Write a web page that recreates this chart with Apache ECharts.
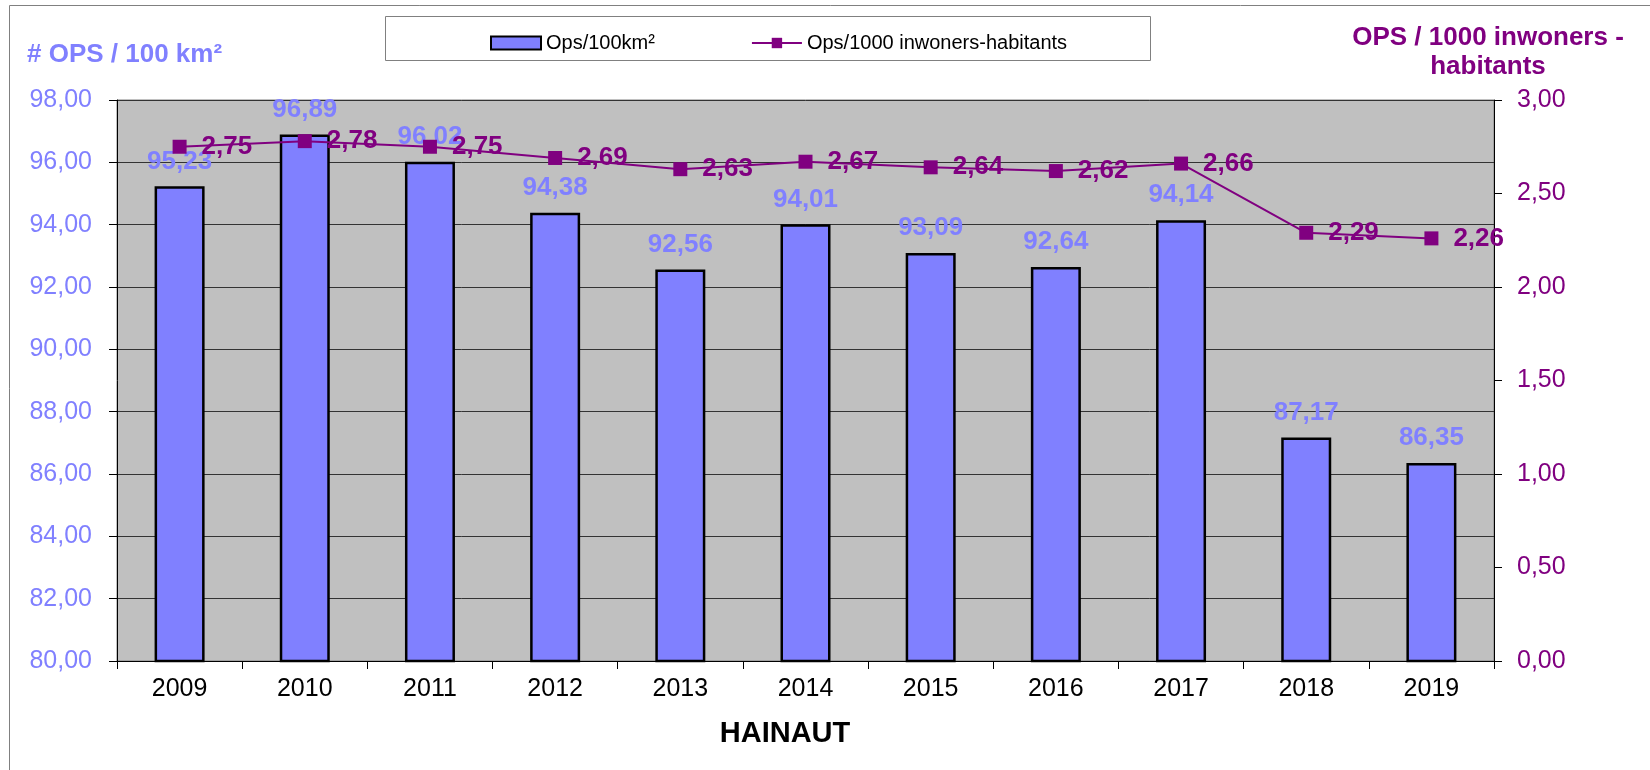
<!DOCTYPE html>
<html>
<head>
<meta charset="utf-8">
<script src="https://cdn.jsdelivr.net/npm/echarts@6/dist/echarts.min.js"></script>
<style>
  html, body { margin: 0; padding: 0; background: #fff; }
  #grafico { width: 1650px; height: 770px; }
</style>
</head>
<body>
<div id="grafico"></div>
<script>
var anos = ['2009', '2010', '2011', '2012', '2013', '2014', '2015', '2016', '2017', '2018', '2019'];
var opsPorArea = [95.23, 96.89, 96.02, 94.38, 92.56, 94.01, 93.09, 92.64, 94.14, 87.17, 86.35];
var opsPorHabitantes = [2.75, 2.78, 2.75, 2.69, 2.63, 2.67, 2.64, 2.62, 2.66, 2.29, 2.26];

var fonte = "'Liberation Sans', Arial, sans-serif";
var corBarra = '#8080FF';
var corLinha = '#800080';

function virgula(v, casas) {
    return Number(v).toFixed(casas).replace('.', ',');
}

var dom = document.getElementById('grafico');
var chart = echarts.init(dom, null, { renderer: 'canvas' });

chart.setOption({
    animation: false,
    textStyle: { fontFamily: fonte },
    graphic: [
        {
            type: 'rect', z: -10, silent: true,
            shape: { x: 9.5, y: 5.5, width: 1700, height: 800 },
            style: { fill: '#fff', stroke: '#808080', lineWidth: 1 }
        },
        {
            type: 'rect', z: 1, silent: true,
            shape: { x: 385.5, y: 16.5, width: 765, height: 44 },
            style: { fill: '#fff', stroke: '#808080', lineWidth: 1 }
        },
        {
            type: 'text', left: 27, top: 42,
            style: { text: '# OPS / 100 km²', fill: corBarra, font: 'bold 26px ' + fonte }
        },
        {
            type: 'text', x: 1488, y: 23,
            style: {
                text: 'OPS / 1000 inwoners -\nhabitants', fill: corLinha,
                font: 'bold 26px ' + fonte, align: 'center', lineHeight: 29
            }
        },
        {
            type: 'text', x: 785, y: 734,
            style: {
                text: 'HAINAUT', fill: '#000', font: 'bold 29px ' + fonte,
                align: 'center', verticalAlign: 'middle'
            }
        }
    ],
    legend: {
        left: 485,
        top: 28,
        z: 5,
        itemWidth: 50,
        itemHeight: 13,
        itemGap: 96,
        textStyle: { fontSize: 20, color: '#000', fontFamily: fonte },
        data: [
            { name: 'Ops/100km²', icon: 'rect' },
            { name: 'Ops/1000 inwoners-habitants' }
        ]
    },
    grid: {
        left: 117,
        right: 156,
        top: 100,
        bottom: 109,
        show: true,
        backgroundColor: '#C0C0C0',
        borderColor: '#808080',
        borderWidth: 1
    },
    xAxis: {
        type: 'category',
        data: anos,
        boundaryGap: true,
        axisLine: { lineStyle: { color: '#000', width: 1 } },
        axisTick: { show: true, length: 8, lineStyle: { color: '#000' } },
        axisLabel: { color: '#000', fontSize: 25, margin: 16, fontFamily: fonte }
    },
    yAxis: [
        {
            type: 'value',
            min: 80,
            max: 98,
            interval: 2,
            axisLine: { show: true, lineStyle: { color: '#000', width: 1 } },
            axisTick: { show: true, length: 8, lineStyle: { color: '#000' } },
            axisLabel: {
                color: corBarra, fontSize: 25, margin: 25, fontFamily: fonte,
                formatter: function (v) { return virgula(v, 2); }
            },
            splitLine: { show: true, lineStyle: { color: '#333', width: 1 } }
        },
        {
            type: 'value',
            min: 0,
            max: 3,
            interval: 0.5,
            position: 'right',
            axisLine: { show: true, lineStyle: { color: '#000', width: 1 } },
            axisTick: { show: true, length: 8, lineStyle: { color: '#000' } },
            axisLabel: {
                color: corLinha, fontSize: 25, margin: 23, fontFamily: fonte,
                formatter: function (v) { return virgula(v, 2); }
            },
            splitLine: { show: false }
        }
    ],
    series: [
        {
            name: 'Ops/100km²',
            type: 'bar',
            yAxisIndex: 0,
            barWidth: 50,
            data: opsPorArea,
            itemStyle: { color: corBarra, borderColor: '#000', borderWidth: 2.5 },
            label: {
                show: true,
                position: 'top',
                distance: 12,
                color: corBarra,
                fontSize: 26,
                fontWeight: 'bold',
                fontFamily: fonte,
                formatter: function (p) { return virgula(p.value, 2); }
            },
            z: 2
        },
        {
            name: 'Ops/1000 inwoners-habitants',
            type: 'line',
            yAxisIndex: 1,
            data: opsPorHabitantes,
            color: corLinha,
            lineStyle: { color: corLinha, width: 2 },
            symbol: 'rect',
            symbolSize: 14,
            itemStyle: { color: corLinha },
            label: {
                show: true,
                position: 'right',
                distance: 15,
                color: corLinha,
                fontSize: 26,
                fontWeight: 'bold',
                fontFamily: fonte,
                formatter: function (p) { return virgula(p.value, 2); }
            },
            z: 3
        }
    ]
});

window.addEventListener('resize', chart.resize);
</script>
</body>
</html>
